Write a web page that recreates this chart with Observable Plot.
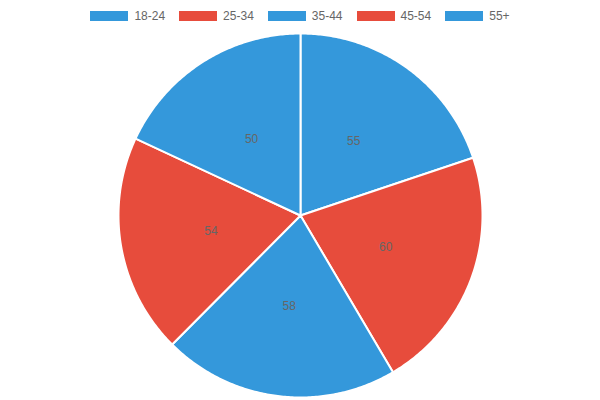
<!DOCTYPE html>
<html>
<head>
<meta charset="utf-8">
<script src="https://cdn.jsdelivr.net/npm/d3@7"></script>
<script src="https://cdn.jsdelivr.net/npm/@observablehq/plot@0.6"></script>
<style>
  html, body { margin: 0; padding: 0; background: #fff; }
  body { width: 600px; height: 400px; overflow: hidden; font-family: "Liberation Sans", Arial, sans-serif; }
  #legend { height: 30px; display: flex; justify-content: center; align-items: flex-start; padding-top: 10px; box-sizing: border-box; font-size: 12px; color: #666; }
  .item { display: flex; align-items: center; margin: 0 7px; }
  .sw { width: 38px; height: 10px; margin-right: 6px; }
  .lbl { line-height: 12px; }
  #chart svg { display: block; }
</style>
</head>
<body>
<div id="legend"></div>
<div id="chart"></div>
<script>
const categories = ["18-24", "25-34", "35-44", "45-54", "55+"];
const values = [55, 60, 58, 54, 50];
const colors = ["#3498db", "#e74c3c", "#3498db", "#e74c3c", "#3498db"];

const W = 600, H = 370, R = 182, CY = 185;

// legend
const legend = document.getElementById("legend");
categories.forEach((c, i) => {
  const it = document.createElement("div");
  it.className = "item";
  it.innerHTML = `<div class="sw" style="background:${colors[i]}"></div><span class="lbl">${c}</span>`;
  legend.appendChild(it);
});

const pie = d3.pie().sort(null).value(d => d.value)(categories.map((c, i) => ({category: c, value: values[i], color: colors[i]})));

// polygon vertices for each slice (unit radius), angles clockwise from top
const pts = [];
pie.forEach(s => {
  const n = Math.max(2, Math.ceil((s.endAngle - s.startAngle) / 0.01));
  pts.push({category: s.data.category, color: s.data.color, x: 0, y: 0});
  for (let k = 0; k <= n; k++) {
    const a = s.startAngle + (s.endAngle - s.startAngle) * k / n;
    pts.push({category: s.data.category, color: s.data.color, x: Math.sin(a), y: Math.cos(a)});
  }
  pts.push({category: s.data.category, color: s.data.color, x: 0, y: 0});
});
const labels = pie.map(s => {
  const a = (s.startAngle + s.endAngle) / 2;
  return {text: String(s.data.value), x: 0.5 * Math.sin(a), y: 0.5 * Math.cos(a)};
});

const chart = Plot.plot({
  width: W, height: H,
  margin: 0,
  x: {domain: [-300 / R, 300 / R], axis: null},
  y: {domain: [-(H - CY) / R, CY / R], axis: null},
  style: {fontFamily: "Liberation Sans, Arial, sans-serif", background: "#fff"},
  marks: [
    Plot.line(pts, {x: "x", y: "y", z: "category", fill: "color", stroke: "#fff", strokeWidth: 2, strokeLinejoin: "round", curve: "linear"}),
    Plot.text(labels, {x: "x", y: "y", text: "text", fill: "#666", fontSize: 12})
  ]
});
document.getElementById("chart").appendChild(chart);
</script>
</body>
</html>
